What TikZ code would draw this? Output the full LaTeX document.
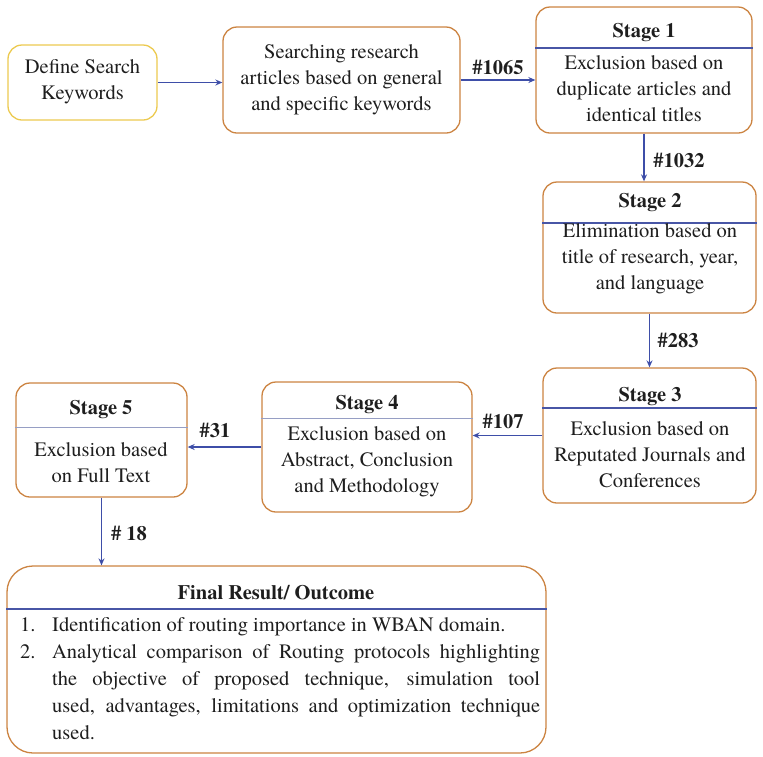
\documentclass[tikz,border=0pt]{standalone}
\usepackage{fontspec}
\setmainfont{TeX Gyre Termes}
\usetikzlibrary{arrows.meta}

\definecolor{boxedge}{RGB}{204,132,66}
\definecolor{keyedge}{RGB}{236,202,80}
\definecolor{rulebl}{RGB}{72,86,166}
\definecolor{rulelt}{RGB}{150,158,196}
\definecolor{flowbl}{RGB}{62,78,168}
\definecolor{ink}{RGB}{30,30,30}

\begin{document}
\begin{tikzpicture}[x=1pt,y=-1pt,
  box/.style={draw=boxedge, line width=1.3pt, rounded corners=14pt, fill=white, inner sep=0pt},
  bodytext/.style={font=\fontsize{20.5}{26}\selectfont, align=center, inner sep=0pt, text=ink},
  titletext/.style={font=\fontsize{20.5}{26}\selectfont\bfseries, inner sep=0pt, text=ink},
  count/.style={font=\fontsize{20.5}{24}\selectfont\bfseries, inner sep=0pt, text=ink},
  divider/.style={draw=rulebl, line width=1.1pt},
  lightdivider/.style={draw=rulelt, line width=1pt},
  flow/.style={draw=flowbl, line width=1.3pt, -{Stealth[length=7pt,width=6pt]}}]

\useasboundingbox (0,0) rectangle (763,756);

% boxes
\node[box, draw=keyedge, minimum width=149pt, minimum height=75pt] (def) at (82.5,82.5) {};
\node[box, minimum width=237pt, minimum height=106pt] (search) at (341.5,80) {};
\node[box, minimum width=216pt, minimum height=126pt] (s1) at (644,70) {};
\node[box, minimum width=213pt, minimum height=131pt] (s2) at (649.5,247.5) {};
\node[box, minimum width=213pt, minimum height=135pt] (s3) at (649.5,435.5) {};
\node[box, minimum width=210pt, minimum height=130pt] (s4) at (367,447) {};
\node[box, minimum width=171pt, minimum height=114pt] (s5) at (101.5,440) {};
\node[box, rounded corners=26pt, minimum width=539pt, minimum height=187pt] (fin) at (276.5,659.5) {};

% header rules
\draw[divider] (s1.west |- 0,48) -- (s1.east |- 0,48);
\draw[divider] (s2.west |- 0,223) -- (s2.east |- 0,223);
\draw[divider] (s3.west |- 0,408) -- (s3.east |- 0,408);
\draw[lightdivider] (s4.west |- 0,418) -- (s4.east |- 0,418);
\draw[lightdivider] (s5.west |- 0,427) -- (s5.east |- 0,427);
\draw[divider] (fin.west |- 0,609) -- (fin.east |- 0,609);

% texts
\node[bodytext] (deft) at (82.5,81.5) {Define Search\\Keywords};
\node[bodytext] (searcht) at (341.5,80) {Searching research\\articles based on general\\and specific keywords};

\node[titletext] (s1h) at (644,33) {Stage 1};
\node[bodytext] (s1t) at (644,89) {Exclusion based on\\duplicate articles and\\identical titles};

\node[titletext] (s2h) at (650,203) {Stage 2};
\node[bodytext] (s2t) at (650,259) {Elimination based on\\title of research, year,\\and language};

\node[titletext] (s3h) at (650,397) {Stage 3};
\node[bodytext] (s3t) at (650,455) {Exclusion based on\\Reputated Journals and\\Conferences};

\node[titletext] (s4h) at (367,405) {Stage 4};
\node[bodytext] (s4t) at (367,462) {Exclusion based on\\Abstract, Conclusion\\and Methodology};

\node[titletext] (s5h) at (101,410) {Stage 5};
\node[bodytext] (s5t) at (101,463) {Exclusion based\\on Full Text};

\node[titletext] (finh) at (276,593) {Final Result/ Outcome};
\node[anchor=north west, inner sep=0pt, align=left, text=ink,
      font=\fontsize{20.5}{27}\selectfont] (fint) at (20,617)
  {\makebox[32pt][l]{1.}Identification of routing importance in WBAN domain.\\
   \makebox[32pt][l]{2.}\makebox[488pt][s]{Analytical comparison of Routing protocols highlighting}\\
   \hspace*{32pt}\makebox[488pt][s]{the objective of proposed technique, simulation tool}\\
   \hspace*{32pt}\makebox[488pt][s]{used, advantages, limitations and optimization technique}\\
   \hspace*{32pt}used.};

% connectors
\draw[flow] (def.east) -- (def.east -| search.west);
\draw[flow] (search.east) -- (search.east -| s1.west);
\draw[flow] (s1.south) -- (s1.south |- s2.north);
\draw[flow] (s2.south) -- (s3.north);
\draw[flow] (s3.west) -- (s3.west -| s4.east);
\draw[flow] (s4.west) -- (s4.west -| s5.east);
\draw[flow] (s5.south) -- (s5.south |- fin.north);

% counts
\node[count] (c1065) at (498,67) {\#1065};
\node[count] (c1032) at (679,160) {\#1032};
\node[count] (c283) at (678,340) {\#283};
\node[count] (c107) at (503,421) {\#107};
\node[count] (c31) at (215,430) {\#31};
\node[count] (c18) at (129,533) {\# 18};
\end{tikzpicture}
\end{document}
